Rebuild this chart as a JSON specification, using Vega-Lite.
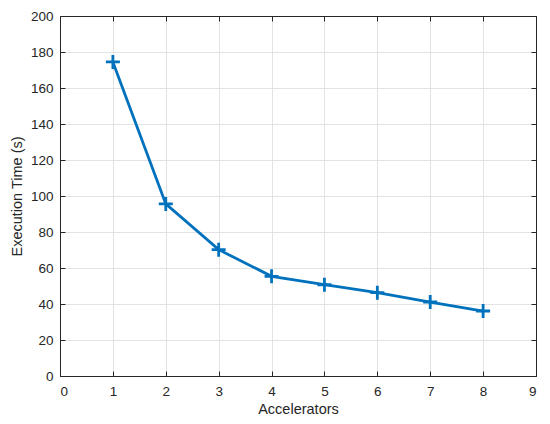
{
  "$schema": "https://vega.github.io/schema/vega-lite/v6.json",
  "width": 476,
  "height": 360,
  "autosize": "none",
  "padding": {"left": 60, "top": 16, "right": 14, "bottom": 48},
  "background": "white",
  "config": {
    "font": "Liberation Sans",
    "view": {"stroke": "#262626", "strokeWidth": 1},
    "axis": {
      "labelFont": "Liberation Sans",
      "titleFont": "Liberation Sans",
      "labelFontSize": 13.5,
      "titleFontSize": 14.5,
      "titleFontWeight": "normal",
      "labelColor": "#262626",
      "titleColor": "#262626",
      "domainColor": "#262626",
      "tickColor": "#262626",
      "gridColor": "#e3e3e3",
      "gridOpacity": 1
    }
  },
  "data": {"values": [
    {"accelerators": 1, "time": 174.5},
    {"accelerators": 2, "time": 95.6},
    {"accelerators": 3, "time": 70.2},
    {"accelerators": 4, "time": 55.4},
    {"accelerators": 5, "time": 50.7},
    {"accelerators": 6, "time": 46.3},
    {"accelerators": 7, "time": 41.1},
    {"accelerators": 8, "time": 36.1}
  ]},
  "layer": [
    {
      "mark": {"type": "line", "color": "#0072BD", "strokeWidth": 2.8},
      "encoding": {
        "x": {"field": "accelerators", "type": "quantitative",
              "scale": {"domain": [0, 9], "nice": false},
              "axis": {"title": "Accelerators", "values": [0,1,2,3,4,5,6,7,8,9], "tickSize": -5, "labelPadding": 13, "titlePadding": 5, "grid": true}},
        "y": {"field": "time", "type": "quantitative",
              "scale": {"domain": [0, 200], "nice": false},
              "axis": {"title": "Execution Time (s)", "values": [0,20,40,60,80,100,120,140,160,180,200], "tickSize": -5, "labelPadding": 12, "titlePadding": 6, "grid": true}}
      }
    },
    {
      "mark": {"type": "point", "shape": "M-1,0L1,0M0,-1L0,1", "filled": false, "color": "#0072BD", "strokeWidth": 2.8, "size": 196, "opacity": 1},
      "encoding": {
        "x": {"field": "accelerators", "type": "quantitative",
              "axis": {"orient": "top", "title": null, "labels": false, "values": [0,1,2,3,4,5,6,7,8,9], "tickSize": -5, "grid": false}},
        "y": {"field": "time", "type": "quantitative",
              "axis": {"orient": "right", "title": null, "labels": false, "values": [0,20,40,60,80,100,120,140,160,180,200], "tickSize": -5, "grid": false}}
      }
    }
  ],
  "resolve": {"axis": {"x": "independent", "y": "independent"}}
}
